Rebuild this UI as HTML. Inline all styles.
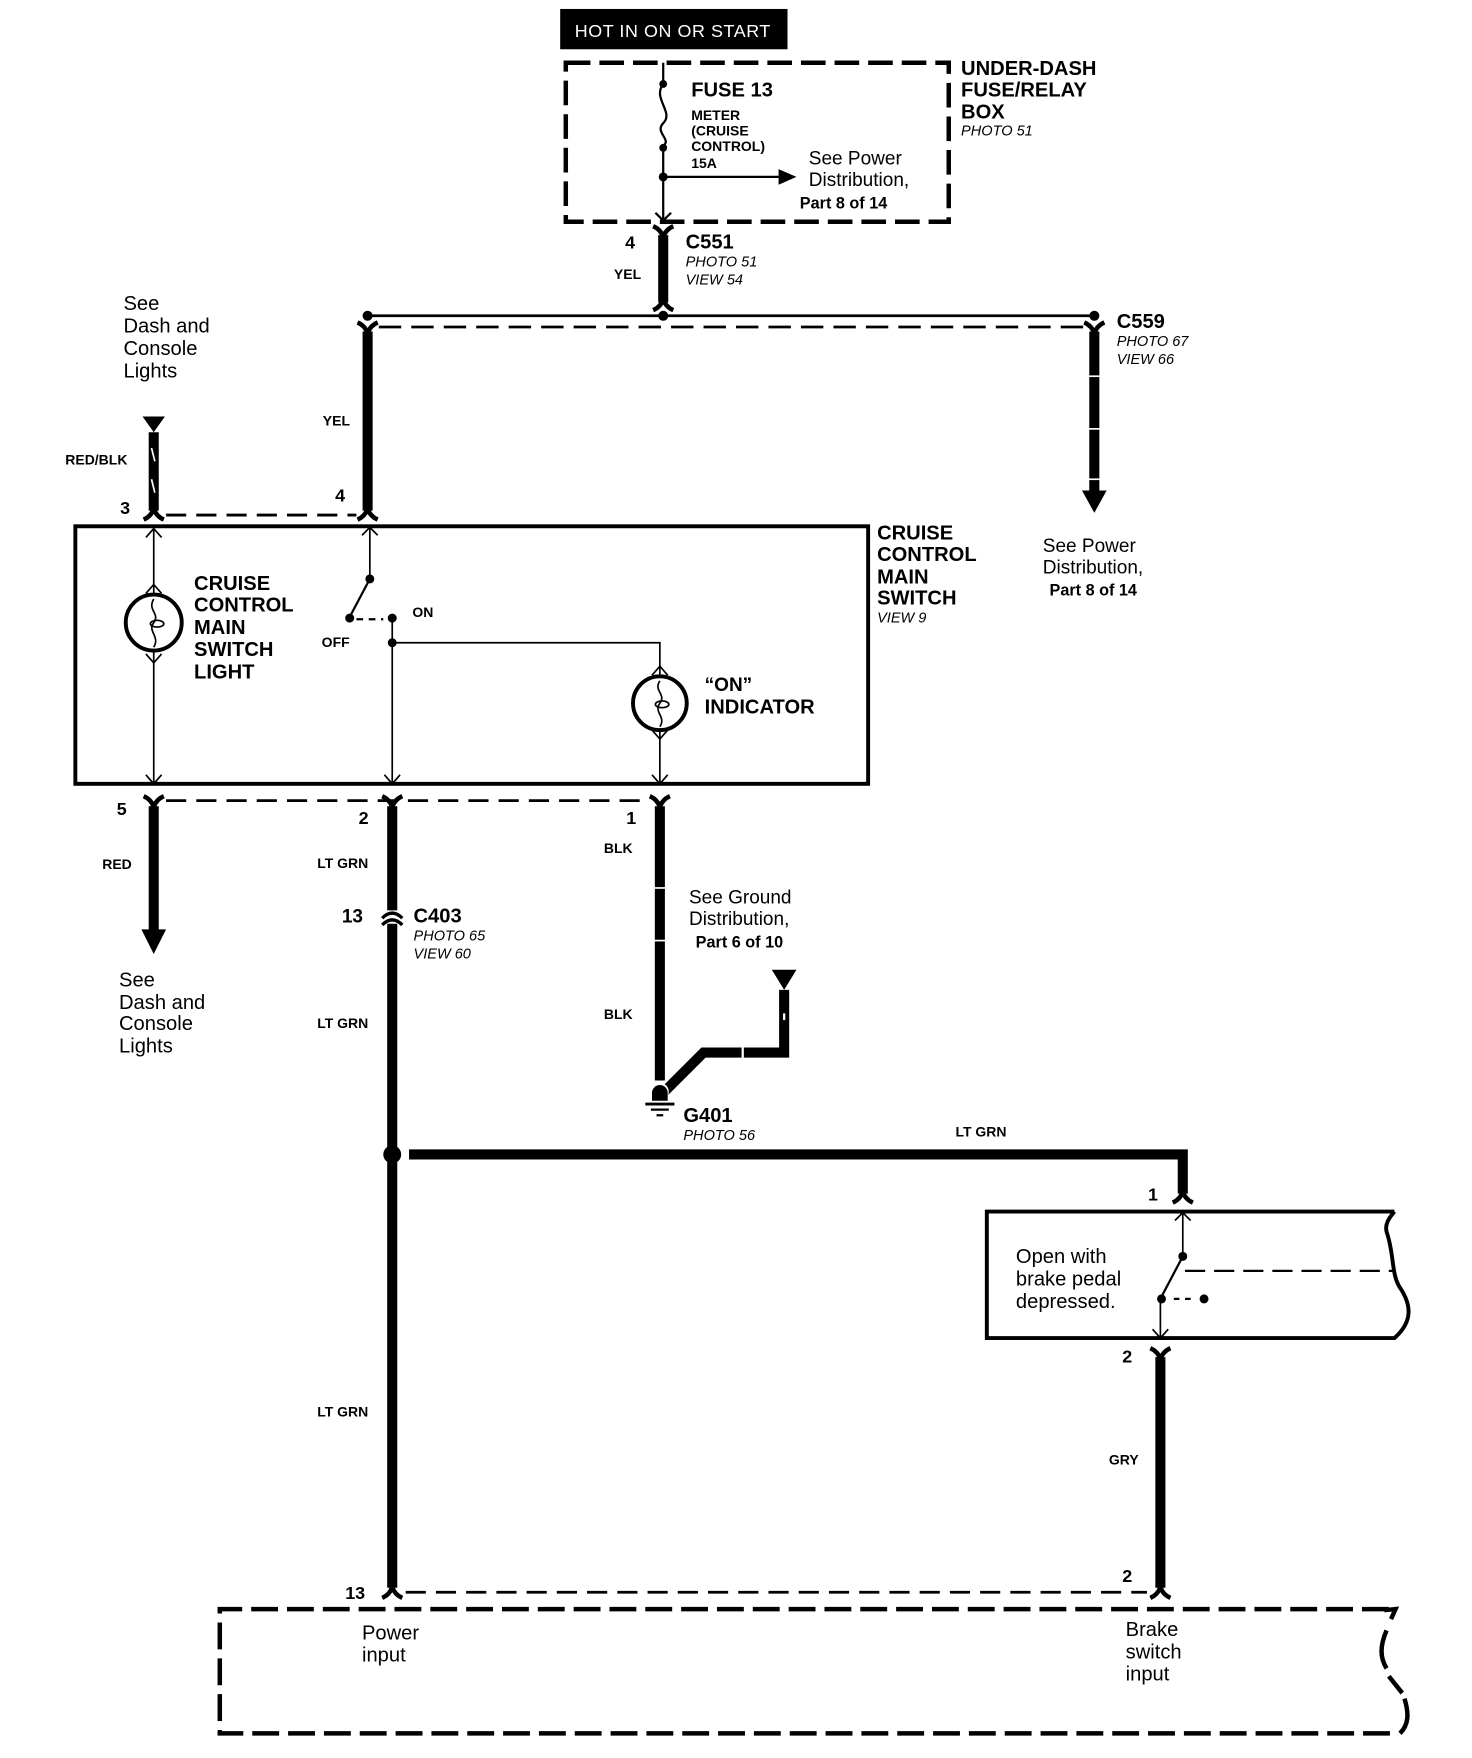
<!DOCTYPE html>
<html><head><meta charset="utf-8"><style>
html,body{margin:0;padding:0;background:#fff;}
svg{display:block;}
text{font-family:"Liberation Sans",Arial,sans-serif;fill:#000;}
.b{font-weight:bold;}
.i{font-style:italic;}
</style></head><body>
<svg width="1472" height="1758" viewBox="0 0 1314 1570" xmlns="http://www.w3.org/2000/svg">
<defs>
<path id="fu" d="M-9,-6 Q-2,-3 0,4 Q2,-3 9,-6" fill="none" stroke="#000" stroke-width="4"/>
<path id="fd" d="M-9,6 Q-2,3 0,-4 Q2,3 9,6" fill="none" stroke="#000" stroke-width="4"/>
</defs>
<!-- HOT box -->
<rect x="500" y="8" width="203" height="36" fill="#000"/>
<text x="513" y="33" font-size="16" style="fill:#fff" letter-spacing="0.5">HOT IN ON  OR  START</text>
<!-- fuse box -->
<rect x="505" y="56" width="342" height="142" fill="none" stroke="#000" stroke-width="4" stroke-dasharray="22,8"/>
<line x1="592" y1="56" x2="592" y2="72" stroke="#000" stroke-width="2"/>
<circle cx="592" cy="75" r="3.5"/>
<path d="M592,75 C582,88 602,100 592,110 C584,118 600,125 592,130" fill="none" stroke="#000" stroke-width="2"/>
<circle cx="592" cy="132" r="3.5"/>
<line x1="592" y1="132" x2="592" y2="196" stroke="#000" stroke-width="2"/>
<circle cx="592" cy="158" r="4"/>
<line x1="592" y1="158" x2="695" y2="158" stroke="#000" stroke-width="2"/>
<polygon points="695,151 711,158 695,165"/>
<path d="M585,190 L592,197 L599,190" fill="none" stroke="#000" stroke-width="2"/>
<text x="617" y="86" font-size="18" class="b">FUSE 13</text>
<text x="617" y="107" font-size="12.5" class="b">METER</text>
<text x="617" y="121" font-size="12.5" class="b">(CRUISE</text>
<text x="617" y="135" font-size="12.5" class="b">CONTROL)</text>
<text x="617" y="150" font-size="12.5" class="b">15A</text>
<text x="722" y="147" font-size="17">See Power</text>
<text x="722" y="166" font-size="17">Distribution,</text>
<text x="714" y="186" font-size="14.5" class="b">Part 8 of 14</text>
<text x="858" y="67" font-size="18" class="b">UNDER-DASH</text>
<text x="858" y="86" font-size="18" class="b">FUSE/RELAY</text>
<text x="858" y="106" font-size="18" class="b">BOX</text>
<text x="858" y="121" font-size="13" class="i">PHOTO 51</text>
<!-- C551 -->
<line x1="592" y1="210" x2="592" y2="270" stroke="#000" stroke-width="9"/>
<use href="#fu" x="592" y="208"/>
<use href="#fd" x="592" y="271"/>
<text x="558" y="222" font-size="16" class="b">4</text>
<text x="612" y="222" font-size="18" class="b">C551</text>
<text x="612" y="238" font-size="13" class="i">PHOTO 51</text>
<text x="612" y="254" font-size="13" class="i">VIEW 54</text>
<text x="548" y="249" font-size="12.5" class="b">YEL</text>
<!-- splice -->
<line x1="328" y1="282" x2="977" y2="282" stroke="#000" stroke-width="2.5"/>
<circle cx="328" cy="282" r="4.5"/><circle cx="592" cy="282" r="4.5"/><circle cx="977" cy="282" r="4.5"/>
<line x1="338" y1="292" x2="968" y2="292" stroke="#000" stroke-width="2.5" stroke-dasharray="20,9"/>
<!-- left YEL -->
<use href="#fu" x="328" y="294"/>
<line x1="328" y1="296" x2="328" y2="456" stroke="#000" stroke-width="9"/>
<use href="#fd" x="328" y="458"/>
<text x="288" y="380" font-size="12.5" class="b">YEL</text>
<text x="299" y="448" font-size="16" class="b">4</text>
<!-- RED/BLK -->
<polygon points="127,372 147,372 137,386"/>
<line x1="137" y1="386" x2="137" y2="456" stroke="#000" stroke-width="9"/>
<line x1="135" y1="400" x2="138" y2="412" stroke="#fff" stroke-width="1.5"/>
<line x1="135" y1="428" x2="138" y2="440" stroke="#fff" stroke-width="1.5"/>
<use href="#fd" x="137" y="458"/>
<text x="58" y="415" font-size="12.5" class="b">RED/BLK</text>
<text x="107" y="459" font-size="16" class="b">3</text>
<text x="110" y="277" font-size="18">See</text>
<text x="110" y="297" font-size="18">Dash and</text>
<text x="110" y="317" font-size="18">Console</text>
<text x="110" y="337" font-size="18">Lights</text>
<line x1="148" y1="460" x2="318" y2="460" stroke="#000" stroke-width="2.5" stroke-dasharray="18,9"/>
<!-- main switch box -->
<rect x="67" y="470" width="708" height="230" fill="none" stroke="#000" stroke-width="3.5"/>
<line x1="137" y1="470" x2="137" y2="700" stroke="#000" stroke-width="1.5"/>
<path d="M130,480 L137,472 L144,480 M130,530 L137,522 L144,530 M130,584 L137,592 L144,584 M130,692 L137,700 L144,692" fill="none" stroke="#000" stroke-width="1.5"/>
<circle cx="137" cy="556" r="25" fill="#fff" stroke="#000" stroke-width="3.5"/>
<path d="M137,535 C131,545 143,548 137,556 C131,564 143,568 137,578" fill="none" stroke="#000" stroke-width="1.5"/>
<ellipse cx="140" cy="557" rx="6" ry="3" fill="none" stroke="#000" stroke-width="1.5"/>
<text x="173" y="527" font-size="18" class="b">CRUISE</text>
<text x="173" y="546" font-size="18" class="b">CONTROL</text>
<text x="173" y="566" font-size="18" class="b">MAIN</text>
<text x="173" y="586" font-size="18" class="b">SWITCH</text>
<text x="173" y="606" font-size="18" class="b">LIGHT</text>
<!-- switch -->
<line x1="330" y1="470" x2="330" y2="517" stroke="#000" stroke-width="1.5"/>
<path d="M323,478 L330,471 L337,478" fill="none" stroke="#000" stroke-width="1.5"/>
<circle cx="330" cy="517" r="4"/>
<line x1="330" y1="517" x2="312" y2="551" stroke="#000" stroke-width="2"/>
<circle cx="312" cy="552" r="4"/>
<line x1="318" y1="553" x2="342" y2="553" stroke="#000" stroke-width="2" stroke-dasharray="6,5"/>
<circle cx="350" cy="552" r="4"/>
<text x="287" y="578" font-size="12.5" class="b">OFF</text>
<text x="368" y="551" font-size="12.5" class="b">ON</text>
<line x1="350" y1="552" x2="350" y2="700" stroke="#000" stroke-width="1.5"/>
<circle cx="350" cy="574" r="4"/>
<polyline points="350,574 589,574 589,600" fill="none" stroke="#000" stroke-width="1.5"/>
<path d="M343,692 L350,700 L357,692" fill="none" stroke="#000" stroke-width="1.5"/>
<line x1="589" y1="600" x2="589" y2="700" stroke="#000" stroke-width="1.5"/>
<path d="M582,603 L589,595 L596,603 M582,652 L589,660 L596,652 M582,692 L589,700 L596,692" fill="none" stroke="#000" stroke-width="1.5"/>
<circle cx="589" cy="628" r="24" fill="#fff" stroke="#000" stroke-width="3.5"/>
<path d="M589,608 C583,617 595,620 589,628 C583,636 595,640 589,649" fill="none" stroke="#000" stroke-width="1.5"/>
<ellipse cx="591" cy="629" rx="6" ry="3" fill="none" stroke="#000" stroke-width="1.5"/>
<text x="629" y="617" font-size="17" class="b">“ON”</text>
<text x="629" y="637" font-size="18" class="b">INDICATOR</text>
<text x="783" y="482" font-size="18" class="b">CRUISE</text>
<text x="783" y="501" font-size="18" class="b">CONTROL</text>
<text x="783" y="521" font-size="18" class="b">MAIN</text>
<text x="783" y="540" font-size="18" class="b">SWITCH</text>
<text x="783" y="556" font-size="13" class="i">VIEW 9</text>
<!-- C559 -->
<use href="#fu" x="977" y="294"/>
<line x1="977" y1="296" x2="977" y2="440" stroke="#000" stroke-width="9"/>
<line x1="972" y1="336" x2="982" y2="336" stroke="#fff" stroke-width="1.5"/>
<line x1="972" y1="383" x2="982" y2="383" stroke="#fff" stroke-width="1.5"/>
<line x1="972" y1="428" x2="982" y2="428" stroke="#fff" stroke-width="1.5"/>
<polygon points="966,438 988,438 977,458"/>
<text x="997" y="293" font-size="18" class="b">C559</text>
<text x="997" y="309" font-size="13" class="i">PHOTO 67</text>
<text x="997" y="325" font-size="13" class="i">VIEW 66</text>
<text x="931" y="493" font-size="17">See Power</text>
<text x="931" y="512" font-size="17">Distribution,</text>
<text x="937" y="532" font-size="14.5" class="b">Part 8 of 14</text>
<!-- bottom connectors of switch -->
<line x1="148" y1="715" x2="580" y2="715" stroke="#000" stroke-width="2.5" stroke-dasharray="18,9"/>
<use href="#fu" x="137" y="717"/><use href="#fu" x="350" y="717"/><use href="#fu" x="589" y="717"/>
<text x="104" y="728" font-size="16" class="b">5</text>
<text x="320" y="736" font-size="16" class="b">2</text>
<text x="559" y="736" font-size="16" class="b">1</text>
<!-- RED -->
<line x1="137" y1="720" x2="137" y2="832" stroke="#000" stroke-width="9"/>
<polygon points="126,830 148,830 137,852"/>
<text x="91" y="776" font-size="12.5" class="b">RED</text>
<text x="106" y="881" font-size="18">See</text>
<text x="106" y="901" font-size="18">Dash and</text>
<text x="106" y="920" font-size="18">Console</text>
<text x="106" y="940" font-size="18">Lights</text>
<!-- LT GRN -->
<line x1="350" y1="720" x2="350" y2="813" stroke="#000" stroke-width="9"/>
<path d="M341,820 Q350,811 359,820 M341,826 Q350,817 359,826" fill="none" stroke="#000" stroke-width="3"/>
<line x1="350" y1="825" x2="350" y2="1418" stroke="#000" stroke-width="9"/>
<text x="283" y="775" font-size="12.5" class="b">LT GRN</text>
<text x="305" y="824" font-size="17" class="b">13</text>
<text x="369" y="824" font-size="18" class="b">C403</text>
<text x="369" y="840" font-size="13" class="i">PHOTO 65</text>
<text x="369" y="856" font-size="13" class="i">VIEW 60</text>
<text x="283" y="918" font-size="12.5" class="b">LT GRN</text>
<text x="283" y="1265" font-size="12.5" class="b">LT GRN</text>
<!-- BLK -->
<line x1="589" y1="720" x2="589" y2="965" stroke="#000" stroke-width="9"/>
<line x1="584" y1="793" x2="594" y2="793" stroke="#fff" stroke-width="1.5"/>
<line x1="584" y1="840" x2="594" y2="840" stroke="#fff" stroke-width="1.5"/>
<text x="539" y="762" font-size="12.5" class="b">BLK</text>
<text x="539" y="910" font-size="12.5" class="b">BLK</text>
<text x="615" y="807" font-size="17">See Ground</text>
<text x="615" y="826" font-size="17">Distribution,</text>
<text x="621" y="846" font-size="14.5" class="b">Part 6 of 10</text>
<polygon points="689,866 711,866 700,884"/>
<polyline points="700,884 700,940 628,940 592,976" fill="none" stroke="#000" stroke-width="9"/>
<line x1="700" y1="905" x2="700" y2="911" stroke="#fff" stroke-width="2"/>
<line x1="663" y1="934" x2="663" y2="946" stroke="#fff" stroke-width="2"/>
<circle cx="589" cy="975" r="8" fill="#fff"/>
<path d="M582,983 L582,976 A7,7 0 0 1 596,976 L596,983 Z"/>
<line x1="576" y1="986" x2="602" y2="986" stroke="#000" stroke-width="2.5"/>
<line x1="581" y1="991" x2="597" y2="991" stroke="#000" stroke-width="2"/>
<line x1="586" y1="996" x2="592" y2="996" stroke="#000" stroke-width="2"/>
<text x="610" y="1002" font-size="18" class="b">G401</text>
<text x="610" y="1018" font-size="13" class="i">PHOTO 56</text>
<!-- LT GRN branch -->
<circle cx="350" cy="1031" r="8"/>
<polyline points="365,1031 1056,1031 1056,1066" fill="none" stroke="#000" stroke-width="9"/>
<use href="#fd" x="1056" y="1068"/>
<text x="853" y="1015" font-size="12.5" class="b">LT GRN</text>
<text x="1025" y="1072" font-size="16" class="b">1</text>
<!-- brake switch box -->
<path d="M1245,1082 L881,1082 L881,1195 L1245,1195 C1262,1180 1260,1165 1250,1150 C1242,1138 1245,1120 1238,1100 C1236,1092 1242,1086 1245,1082" fill="none" stroke="#000" stroke-width="3.5"/>
<line x1="1056" y1="1082" x2="1056" y2="1122" stroke="#000" stroke-width="1.5"/>
<path d="M1049,1090 L1056,1083 L1063,1090" fill="none" stroke="#000" stroke-width="1.5"/>
<circle cx="1056" cy="1122" r="4"/>
<line x1="1056" y1="1122" x2="1037" y2="1158" stroke="#000" stroke-width="2"/>
<circle cx="1037" cy="1160" r="4"/>
<line x1="1048" y1="1160" x2="1068" y2="1160" stroke="#000" stroke-width="2" stroke-dasharray="5,5"/>
<circle cx="1075" cy="1160" r="4"/>
<line x1="1058" y1="1135" x2="1245" y2="1135" stroke="#000" stroke-width="2" stroke-dasharray="18,8"/>
<line x1="1036" y1="1160" x2="1036" y2="1195" stroke="#000" stroke-width="1.5"/>
<path d="M1029,1187 L1036,1195 L1043,1187" fill="none" stroke="#000" stroke-width="1.5"/>
<text x="907" y="1128" font-size="18">Open with</text>
<text x="907" y="1148" font-size="18">brake pedal</text>
<text x="907" y="1168" font-size="18">depressed.</text>
<!-- GRY -->
<use href="#fu" x="1036" y="1210"/>
<line x1="1036" y1="1212" x2="1036" y2="1418" stroke="#000" stroke-width="9"/>
<text x="1002" y="1217" font-size="16" class="b">2</text>
<text x="990" y="1308" font-size="12.5" class="b">GRY</text>
<!-- bottom -->
<use href="#fd" x="350" y="1421"/><use href="#fd" x="1036" y="1421"/>
<line x1="362" y1="1422" x2="1024" y2="1422" stroke="#000" stroke-width="2.5" stroke-dasharray="18,9"/>
<text x="308" y="1428" font-size="16" class="b">13</text>
<text x="1002" y="1413" font-size="16" class="b">2</text>
<path d="M1240,1437 L196,1437 L196,1548 L1248,1548" fill="none" stroke="#000" stroke-width="4" stroke-dasharray="24,8"/>
<path d="M1236,1438 L1246,1437 L1242,1446 M1238,1456 C1232,1470 1232,1480 1238,1490 M1240,1497 L1252,1512 M1254,1517 C1258,1530 1258,1540 1250,1548" fill="none" stroke="#000" stroke-width="4"/>
<text x="323" y="1464" font-size="18">Power</text>
<text x="323" y="1484" font-size="18">input</text>
<text x="1005" y="1461" font-size="18">Brake</text>
<text x="1005" y="1481" font-size="18">switch</text>
<text x="1005" y="1501" font-size="18">input</text>
</svg>
</body></html>
